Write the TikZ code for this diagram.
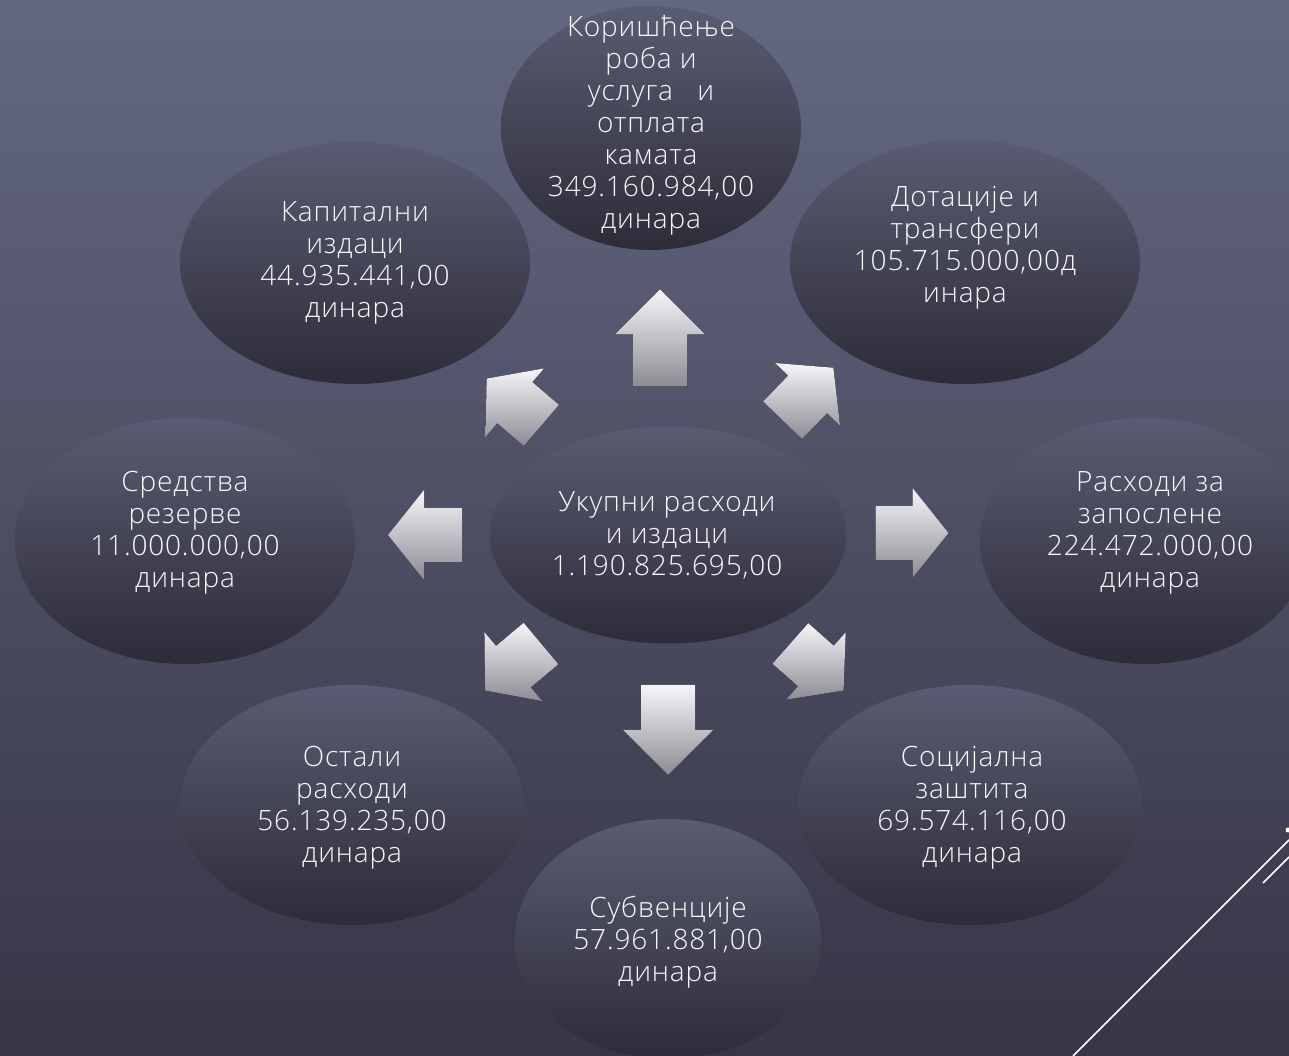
\documentclass[tikz,border=0pt]{standalone}
\usepackage{fontspec}
\setmainfont{Open Sans Light}[LetterSpace=3]
\usetikzlibrary{calc,shapes.geometric}

\definecolor{bgtop}{RGB}{99,104,129}
\definecolor{bgbot}{RGB}{55,53,70}
\definecolor{eltop}{RGB}{89,92,114}
\definecolor{elbot}{RGB}{46,44,57}
\definecolor{artop}{RGB}{246,245,249}
\definecolor{arbot}{RGB}{140,139,147}

% block arrow: name, position, angle, length, head length
\newcommand{\blockarr}[5]{%
  \coordinate (#1) at (#2);
  \fill[arrowfill] ($(#1)+(#3:{#4/2})$)
    -- ($(#1)+(#3:{#4/2-#5})+({#3+90}:45)$)
    -- ($(#1)+(#3:{#4/2-#5})+({#3+90}:27)$)
    -- ($(#1)+(#3:{-#4/2})+({#3+90}:27)$)
    -- ($(#1)+(#3:{-#4/2})+({#3-90}:27)$)
    -- ($(#1)+(#3:{#4/2-#5})+({#3-90}:27)$)
    -- ($(#1)+(#3:{#4/2-#5})+({#3-90}:45)$) -- cycle;}

\begin{document}
\begin{tikzpicture}[x=1pt,y=1pt,
	bubble/.style={ellipse,inner sep=0pt,top color=eltop,bottom color=elbot},
	txt/.style={align=center,text=white!95!gray,font=\fontsize{28}{32}\selectfont},
	arrowfill/.style={top color=artop,bottom color=arbot}]
	\useasboundingbox (0,0) rectangle (1289,1056);
	\shade[top color=bgtop,bottom color=bgbot] (0,0) rectangle (1289,1056);

	% ellipses
	\node[bubble,minimum width=300,minimum height=244] (KOR) at (651,928) {};
	\node[bubble,minimum width=350,minimum height=242] (KAP) at (355,793) {};
	\node[bubble,minimum width=350,minimum height=244] (DOT) at (965,794) {};
	\node[bubble,minimum width=340,minimum height=246] (SRE) at (185,515) {};
	\node[bubble,minimum width=330,minimum height=246] (RAS) at (1145,515) {};
	\node[bubble,minimum width=344,minimum height=240] (OST) at (352,251) {};
	\node[bubble,minimum width=344,minimum height=240] (SOC) at (970,251) {};
	\node[bubble,minimum width=306,minimum height=240] (SUB) at (668,117) {};
	\node[bubble,minimum width=356,minimum height=217] (TOT) at (668,521) {};

	% texts
	\node[txt] (KOR-t) at (651,931) {Коришћење\\роба и\\услуга \ \ и\\отплата\\камата\\349.160.984,00\\динара};
	\node[txt] (KAP-t) at (355,793) {Капитални\\издаци\\44.935.441,00\\динара};
	\node[txt] (DOT-t) at (965,808) {Дотације и\\трансфери\\105.715.000,00д\\инара};
	\node[txt] (SRE-t) at (185,523) {Средства\\резерве\\11.000.000,00\\динара};
	\node[txt] (RAS-t) at (1150,523) {Расходи за\\запослене\\224.472.000,00\\динара};
	\node[txt] (OST-t) at (352,248) {Остали\\расходи\\56.139.235,00\\динара};
	\node[txt] (SOC-t) at (972,248) {Социјална\\заштита\\69.574.116,00\\динара};
	\node[txt] (SUB-t) at (668,114) {Субвенције\\57.961.881,00\\динара};
	\node[txt] (TOT-t) at (667,521) {Укупни расходи\\и издаци\\1.190.825.695,00};

	% arrows
	\blockarr{UP}{660,718}{90}{97}{45}
	\blockarr{DN}{668,326}{270}{90}{45}
	\blockarr{RT}{912,523}{0}{73}{36}
	\blockarr{LT}{425,521}{180}{74}{36}
	\blockarr{TL}{514,654}{139.5}{72}{37}
	\blockarr{TR}{808,662}{46}{73}{37}
	\blockarr{BL}{513,389}{220}{73}{37}
	\blockarr{BR}{817,389}{-41.5}{71}{37}

	% corner lines
	\draw[white,line width=1.5] (1073,0) -- (1289,216) (1263,173) -- (1289,199);
	\fill[white] (1288,226) circle (2.5);
\end{tikzpicture}
\end{document}
